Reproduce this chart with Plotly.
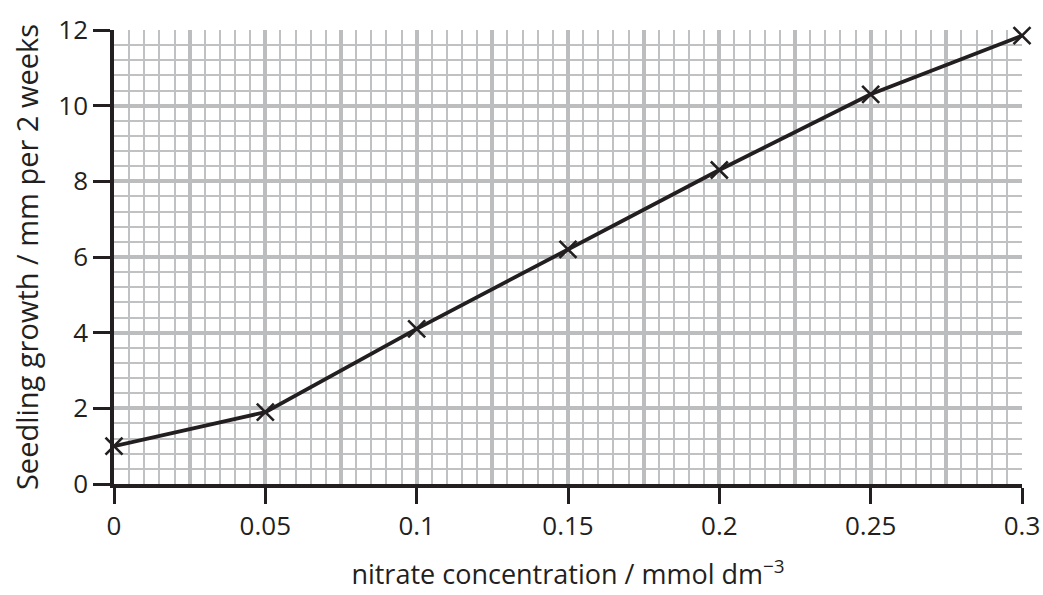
import plotly.graph_objects as go

nitrate = [0, 0.05, 0.1, 0.15, 0.2, 0.25, 0.3]
growth = [1.0, 1.9, 4.1, 6.2, 8.3, 10.3, 11.85]
x_ticks = [0, 0.05, 0.1, 0.15, 0.2, 0.25, 0.3]
x_ticktext = ["0", "0.05", "0.1", "0.15", "0.2", "0.25", "0.3"]
y_ticks = [0, 2, 4, 6, 8, 10, 12]

grid_minor = "#c0c1c3"
grid_major = "#bcbdbf"
ink = "#231f20"
font_family = "Open Sans"

fig = go.Figure()
fig.add_trace(go.Scatter(
    x=nitrate, y=growth, mode="lines+markers",
    line=dict(color=ink, width=3.8),
    marker=dict(symbol="x-thin", size=17, line=dict(color=ink, width=2.6)),
    cliponaxis=False,
    showlegend=False, hoverinfo="skip",
))
# invisible trace to anchor the overlay axis carrying the 0.025 grid
fig.add_trace(go.Scatter(x=[nitrate[0]], y=[growth[0]], xaxis="x2", mode="markers",
                         marker=dict(opacity=0), showlegend=False, hoverinfo="skip"))

fig.update_layout(
    width=1043, height=595,
    margin=dict(l=114, r=21, t=30, b=111, autoexpand=False),
    paper_bgcolor="white", plot_bgcolor="white",
    font=dict(family=font_family, size=26, color=ink),
    xaxis=dict(
        range=[0, 0.3], tickvals=x_ticks, ticktext=x_ticktext,
        ticks="outside", ticklen=16, tickwidth=2.5, tickcolor=ink,
        showline=True, linecolor=ink, linewidth=3.5,
        showgrid=True, gridcolor=grid_major, gridwidth=3.5,
        zeroline=False,
        minor=dict(dtick=0.005, showgrid=True, gridcolor=grid_minor, gridwidth=1.8, ticks=""),
        title=dict(text="nitrate concentration / mmol dm<sup>−3</sup>", standoff=24,
                   font=dict(size=27)),
        tickfont=dict(size=26),
        layer="above traces",
    ),
    xaxis2=dict(
        overlaying="x", range=[0, 0.3], dtick=0.025, tick0=0,
        showgrid=True, gridcolor=grid_major, gridwidth=3.5,
        showticklabels=False, ticks="", showline=False, zeroline=False,
        side="bottom",
    ),
    yaxis=dict(
        range=[0, 12], tickvals=y_ticks,
        ticks="outside", ticklen=17, tickwidth=2.5, tickcolor=ink,
        showline=True, linecolor=ink, linewidth=3.5,
        showgrid=True, gridcolor=grid_major, gridwidth=3.5,
        zeroline=False,
        minor=dict(dtick=0.4, showgrid=True, gridcolor=grid_minor, gridwidth=1.8, ticks=""),
        title=dict(text="Seedling growth / mm per 2 weeks", standoff=12, font=dict(size=29)),
        tickfont=dict(size=26),
        layer="above traces",
    ),
)

fig.write_html(
    "out.html",
    config={"displayModeBar": False},
    post_script="document.body.style.margin='0';document.body.style.overflow='hidden';",
)
